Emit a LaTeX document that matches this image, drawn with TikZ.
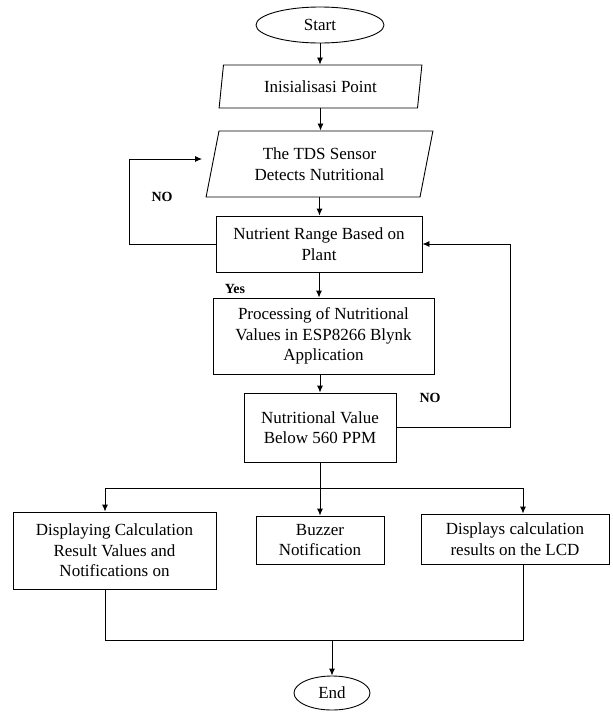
\documentclass[tikz,border=0pt]{standalone}
\usepackage{fontspec}
\setmainfont{Liberation Serif}
\usetikzlibrary{shapes.geometric,arrows.meta}

\tikzset{
  base/.style={draw, line width=0.9pt, inner sep=0pt, align=center, font=\fontsize{17}{20.5}\selectfont},
  startstop/.style={base, ellipse},
  io/.style={base, trapezium, trapezium stretches=true},
  process/.style={base, rectangle},
  line/.style={line width=0.9pt},
  arrow/.style={line, -{Latex[length=7pt,width=6pt]}},
  lbl/.style={font=\fontsize{14}{16}\selectfont\bfseries}
}

\begin{document}
\begin{tikzpicture}[x=1pt,y=-1pt]
  \useasboundingbox (0,0) rectangle (613,713);

  % nodes
  \node[startstop, minimum width=128pt, minimum height=36pt] (start) at (320,25) {Start};
  \node[io, trapezium left angle=78, trapezium right angle=102, minimum width=203pt, minimum height=43pt] (init) at (320.5,86.5) {Inisialisasi Point};
  \node[io, trapezium left angle=75.6, trapezium right angle=104.4, minimum width=227pt, minimum height=66pt] (tds) at (319.5,164) {The TDS Sensor\\Detects Nutritional};
  \node[process, minimum width=206pt, minimum height=56pt] (rng) at (319,244) {Nutrient Range Based on\\Plant};
  \node[process, minimum width=221pt, minimum height=76pt] (proc) at (323.5,336) {Processing of Nutritional\\Values in ESP8266 Blynk\\Application};
  \node[process, minimum width=152pt, minimum height=69pt] (val) at (320,427.5) {Nutritional Value\\Below 560 PPM};
  \node[process, minimum width=203pt, minimum height=77pt] (disp) at (114.5,550.5) {Displaying Calculation\\Result Values and\\Notifications on};
  \node[process, minimum width=128pt, minimum height=48pt] (buzz) at (320,540) {Buzzer\\Notification};
  \node[process, minimum width=188pt, minimum height=50pt] (lcd) at (515,539) {Displays calculation\\results on the LCD};
  \node[startstop, minimum width=76pt, minimum height=34pt] (end) at (332,693) {End};

  % labels
  \node[lbl] (no1) at (162,197) {NO};
  \node[lbl] (yes) at (235,289) {Yes};
  \node[lbl] (no2) at (430,398) {NO};

  % connectors
  \coordinate (bl) at (105,488);
  \coordinate (br) at (523,488);
  \coordinate (ml) at (105,640);
  \coordinate (mr) at (523,640);
  \draw[arrow] (start.south) -- (start.south |- init.north);
  \draw[arrow] (init.south) -- (init.south |- tds.north);
  \draw[arrow] (tds.south) -- (tds.south |- rng.north);
  \draw[arrow] (rng.west) -- ++(-86,0) |- ([xshift=-10pt,yshift=5pt]tds.west);
  \draw[arrow] (rng.south) -- (rng.south |- proc.north);
  \draw[arrow] (proc.south -| val.north) -- (val.north);
  \draw[arrow] (val.east) -- ++(114,0) |- (rng.east);
  \draw[arrow] (val.south) -- (buzz.north);
  \draw[line] (bl) -- (br);
  \draw[arrow] (bl) -- (bl |- disp.north);
  \draw[arrow] (br) -- (br |- lcd.north);
  \draw[line] (ml |- disp.south) -- (ml) -- (mr) -- (mr |- lcd.south);
  \draw[arrow] (end.north |- ml) -- (end.north);
\end{tikzpicture}
\end{document}
